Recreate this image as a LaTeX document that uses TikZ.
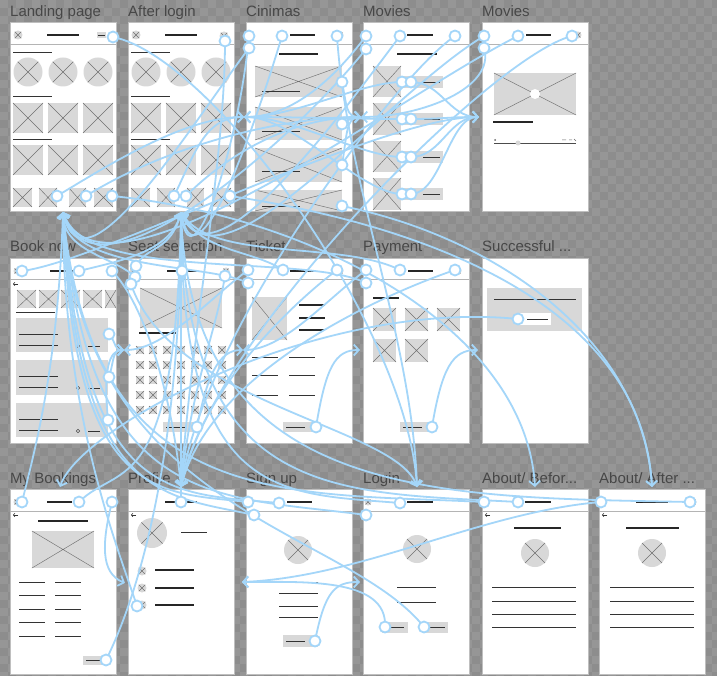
\documentclass[tikz,border=0pt]{standalone}
\usepackage{fontspec}
\setmainfont{Liberation Sans}
\usetikzlibrary{arrows.meta}
\definecolor{bgA}{HTML}{8D8D8D}
\definecolor{bgB}{HTML}{969696}
\definecolor{lb}{RGB}{164,214,249}
\definecolor{phc}{HTML}{D8D8D8}
\definecolor{xlc}{HTML}{707070}
\definecolor{lblc}{HTML}{474747}
\definecolor{frmc}{HTML}{BFBFBF}
\definecolor{sepc}{HTML}{B4B4B4}
\tikzset{
 link/.style={draw=lb,line width=1.8pt,-{Straight Barb[length=5pt,width=11pt]}},
 dot/.style={circle,draw=lb,fill=white,line width=1.8pt,minimum size=11pt,inner sep=0pt},
 frm/.style={fill=white,draw=frmc,line width=0.6pt},
 sepl/.style={draw=sepc,line width=0.9pt},
 xl/.style={draw=xlc,line width=0.45pt},
 wl/.style={draw=black!80,line width=0.9pt},
 hl/.style={draw=black!85,line width=1.4pt},
 lab/.style={anchor=base west,text=lblc,font=\fontsize{15}{18}\selectfont,inner sep=0pt}
}
\newcommand\wfbox[4]{\fill[phc] (#1,#2) rectangle (#3,#4); \draw[xl] (#1,#2) -- (#3,#4) (#1,#4) -- (#3,#2);}
\newcommand\wfcirc[3]{\fill[phc] (#1,#2) circle[radius=#3]; \draw[xl] ({#1-0.7071*#3},{#2-0.7071*#3}) -- ({#1+0.7071*#3},{#2+0.7071*#3}) ({#1-0.7071*#3},{#2+0.7071*#3}) -- ({#1+0.7071*#3},{#2-0.7071*#3});}
\newcommand\wfline[3]{\draw[wl] (#1,#3) -- (#2,#3);}
\newcommand\wfhead[3]{\draw[hl] (#1,#3) -- (#2,#3);}
\newcommand\wfback[2]{\draw[draw=black!80,line width=0.6pt,-{Straight Barb[length=1.5pt,width=3.5pt]}] ({#1+5},#2) -- (#1,#2);}
\newcommand\lnk[4]{\draw[link] (#1) .. controls +#2 and +#3 .. (#4);}
\newcommand\landbody{%
\draw[sepl] (10,44) -- (116,44);
\wfcirc{18}{35}{4.5}
\wfhead{47}{79}{35}
\wfline{13}{52}{52}
\wfcirc{28}{72}{14.5} \wfcirc{63}{72}{14.5} \wfcirc{98}{72}{14.5}
\wfline{13}{52}{96}
\wfbox{13}{103}{43}{133} \wfbox{48}{103}{78}{133} \wfbox{83}{103}{113}{133}
\wfline{13}{52}{139}
\wfbox{13}{145}{43}{175} \wfbox{48}{145}{78}{175} \wfbox{83}{145}{113}{175}
\wfbox{13}{188}{32}{207} \wfbox{39}{188}{57}{207} \wfbox{69}{188}{86}{207} \wfbox{94}{188}{113}{207}}
\begin{document}
\begin{tikzpicture}[x=1pt,y=-1pt]
\useasboundingbox (0,0) rectangle (717,676);
\fill[bgA] (0,0) rectangle (717,676);
\foreach \r in {0,...,84} {
  \pgfmathsetmacro\dph{mod(\r,2)*8}
  \draw[bgB, line width=8pt, dash pattern=on 8pt off 8pt, dash phase=\dph pt] (0,{8*\r+4}) -- (717,{8*\r+4});
}
% ---------- frames ----------
\foreach \fx/\ft/\fb in {10/22/211,128/22/211,246/22/211,363/22/211,482/22/211,
  10/258/443,128/258/443,246/258/443,363/258/443,482/258/443,
  10/489/674,128/489/674,246/489/674,363/489/674,482/489/674,599/489/674}
  {\draw[frm] (\fx,\ft) rectangle ({\fx+106},\fb);}
\node[lab] (tA) at (10,17) {Landing page};
\node[lab] (tB) at (128,17) {After login};
\node[lab] (tC) at (246,17) {Cinimas};
\node[lab] (tD) at (363,17) {Movies};
\node[lab] (tE) at (482,17) {Movies};
\node[lab] (tF) at (10,252) {Book now};
\node[lab] (tG) at (128,252) {Seat selection};
\node[lab] (tH) at (246,252) {Ticket};
\node[lab] (tI) at (363,252) {Payment};
\node[lab] (tJ) at (482,252) {Successful ...};
\node[lab] (tK) at (10,483) {My Bookings};
\node[lab] (tL) at (128,483) {Profile};
\node[lab] (tM) at (246,483) {Sign up};
\node[lab] (tN) at (363,483) {Login};
\node[lab] (tO) at (482,483) {About/ Befor...};
\node[lab] (tP) at (599,483) {About/ After ...};
% Landing
\landbody
\fill[phc] (97,32) rectangle (106,38); \draw[wl] (98,35)--(105,35);
% After login
\begin{scope}[xshift=118pt]\landbody\end{scope}
\wfcirc{224}{36}{4.5}
% Cinimas
\draw[sepl] (246,44) -- (352,44);
\wfcirc{250}{35}{3.5} \wfhead{290}{315}{35} \wfcirc{340}{35}{3.5}
\wfhead{279}{318}{54}
\wfbox{255}{66}{342}{97} \wfline{262}{300}{91}
\wfbox{255}{107}{342}{140} \wfline{262}{300}{131}
\wfbox{255}{148}{342}{182} \wfline{262}{300}{171}
\wfbox{255}{190}{342}{211} \wfline{262}{300}{206}
% Movies
\draw[sepl] (363,44) -- (469,44);
\wfcirc{367}{35}{3.5} \wfhead{407}{433}{35} \wfcirc{457}{35}{3.5}
\wfhead{397}{437}{54}
\foreach \ya/\yb/\ym in {66/97/82,103/135/119,141/172/157,178/210/194}{
  \wfbox{373}{\ya}{401}{\yb}
  \fill[phc] (403,\ym-6) rectangle (443,\ym+6); \wfline{423}{440}{\ym}}
% Movies 2
\draw[sepl] (482,44) -- (588,44);
\wfcirc{486}{35}{3.5} \wfhead{526}{551}{35} \wfcirc{578}{35}{3.5}
\wfbox{494}{73}{576}{115} \fill[white] (535,94) circle[radius=5];
\wfhead{493}{533}{122}
\draw[draw=black!70,line width=0.7pt] (494,143) -- (576,143);
\fill[phc] (518,143) circle[radius=2.5];
\fill[black!60] (495,140) circle[radius=1];
\draw[draw=black!60,line width=0.5pt] (562,140) -- (566,140) (569,140) -- (572,140) (574,139) -- (576,141);
% Book now
\draw[sepl] (10,279) -- (116,279);
\wfcirc{17}{271}{3.5} \wfhead{50}{75}{271} \wfcirc{112}{271}{3.5}
\wfback{13}{284}
\wfbox{17}{290}{36}{308} \wfbox{39}{290}{58}{308} \wfbox{61}{290}{80}{308} \wfbox{83}{290}{102}{308} \wfbox{105}{290}{116}{308}
\wfline{16}{55}{312}
\foreach \ya/\yb in {318/352,360/395,403/437}{
  \fill[phc] (16,\ya) rectangle (108,\yb);
  \wfline{19}{58}{\ya+16} \wfline{19}{58}{\ya+27}
  \draw[draw=black!70,line width=0.5pt] (78,\ya+28) circle[radius=1.8];
  \wfline{88}{100}{\ya+28}}
% Seat selection
\draw[sepl] (128,279) -- (234,279);
\wfcirc{133}{271}{3.5} \wfhead{167}{198}{271} \wfcirc{226}{271}{3.5}
\wfbox{140}{288}{222}{328}
\wfhead{139}{176}{333}
\foreach \cx in {140,153,167,181,195,208,222}{
  \foreach \cy in {350,365,380,395,410}{\wfbox{\cx-4}{\cy-4}{\cx+4}{\cy+4}}}
\fill[phc] (163,422) rectangle (197,432); \wfline{166}{186}{427}
% Ticket
\draw[sepl] (246,279) -- (352,279);
\wfcirc{250}{271}{3.5} \wfhead{290}{316}{271} \wfcirc{340}{271}{3.5}
\wfbox{252}{297}{287}{340}
\wfhead{299}{325}{305} \wfhead{299}{325}{318} \wfhead{299}{325}{330}
\foreach \yy in {357,375,395}{\wfline{252}{278}{\yy} \wfline{289}{315}{\yy}}
\fill[phc] (283,422) rectangle (318,432); \wfline{286}{305}{427}
% Payment
\draw[sepl] (363,279) -- (469,279);
\wfcirc{368}{271}{3.5} \wfhead{408}{433}{271} \wfcirc{458}{271}{3.5}
\wfhead{373}{399}{298}
\wfbox{373}{308}{396}{331} \wfbox{405}{308}{428}{331} \wfbox{437}{308}{460}{331}
\wfbox{373}{339}{396}{362} \wfbox{405}{339}{428}{362}
\fill[phc] (400,422) rectangle (432,432); \wfline{403}{422}{427}
% Successful
\fill[phc] (487,288) rectangle (582,331);
\wfline{494}{576}{299}
\fill[white] (520,313) rectangle (551,325); \wfline{527}{548}{319}
% My Bookings
\draw[sepl] (10,511) -- (116,511);
\wfcirc{17}{502}{3.5} \wfhead{47}{72}{502} \wfcirc{112}{502}{3.5}
\wfback{13}{515}
\wfhead{38}{88}{521}
\wfbox{32}{531}{94}{568}
\foreach \yy in {582,595,609,622,636}{\wfline{19}{45}{\yy} \wfline{55}{81}{\yy}}
\fill[phc] (83,656) rectangle (108,665); \wfline{86}{100}{660}
% Profile
\draw[sepl] (128,511) -- (234,511);
\wfhead{165}{197}{502} \wfback{131}{515}
\wfcirc{152}{533}{15} \wfline{181}{207}{532}
\wfcirc{142}{571}{4.5} \wfcirc{142}{588}{4.5} \wfcirc{142}{605}{4.5}
\wfhead{155}{194}{570} \wfhead{155}{194}{588} \wfhead{155}{194}{605}
% Sign up
\draw[sepl] (246,511) -- (352,511);
\wfcirc{250}{502}{3.5} \wfhead{287}{312}{502}
\wfcirc{298}{550}{14}
\foreach \yy in {582,593,606,617}{\wfline{279}{318}{\yy}}
\fill[phc] (283,635) rectangle (318,647); \wfline{286}{305}{641}
% Login
\draw[sepl] (363,511) -- (469,511);
\wfcirc{368}{502}{3.5} \wfhead{407}{433}{502}
\wfcirc{417}{549}{14}
\wfline{397}{436}{587} \wfline{397}{436}{602}
\fill[phc] (382,622) rectangle (408,633); \wfline{388}{404}{627}
\fill[phc] (423,622) rectangle (448,633); \wfline{429}{445}{627}
% About before
\draw[sepl] (482,511) -- (588,511);
\wfcirc{486}{502}{3.5} \wfhead{525}{551}{502}
\wfback{485}{515}
\wfhead{514}{561}{528}
\wfcirc{535}{553}{14}
\foreach \yy in {587,601,614,627}{\wfline{492}{576}{\yy}}
% About after
\draw[sepl] (599,511) -- (705,511);
\wfcirc{603}{502}{3.5} \wfhead{636}{668}{502} \wfcirc{693}{502}{3.5}
\wfback{602}{515}
\wfhead{626}{679}{528}
\wfcirc{652}{553}{14}
\foreach \yy in {587,601,614,627}{\wfline{610}{694}{\yy}}
% ---------- hubs ----------
\coordinate (hLand) at (63,212);
\coordinate (hAfter) at (181,212);
\coordinate (hCin) at (244,117);
\coordinate (hMov) at (361,117);
\coordinate (hMovB) at (479,117);
\coordinate (hSeat) at (124,350);
\coordinate (hTick) at (243,350);
\coordinate (hPay) at (360,350);
\coordinate (hSucc) at (478,350);
\coordinate (hMyB) at (60,487);
\coordinate (hProf) at (181,487);
\coordinate (hProfL) at (125,583);
\coordinate (hSign) at (242,582);
\coordinate (hLogL) at (360,582);
\coordinate (hLogin) at (417,487);
\coordinate (hAbB) at (535,487);
\coordinate (hAbA) at (652,487);
% ---------- sources ----------
\foreach \n/\px/\py in {lpA/113/37,lpB/57/196,lpC/86/196,lpD/112/196,
 alA/225/41,alB/174/196,alC/186/196,alD/230/196,
 ciA/249/36,ciB/249/48,ciC/282/36,ciD/337/36,ciE/342/82,ciF/342/124,ciG/342/165,ciH/342/206,
 mvA/366/36,mvB/366/49,mvC/400/36,mvD/455/36,
 mvEa/402/82,mvEb/402/119,mvEc/402/157,mvEd/402/194,
 mvFa/411/82,mvFb/411/119,mvFc/411/157,mvFd/411/194,
 mtA/484/36,mtB/484/48,mtC/518/36,mtD/572/36,
 bnA/22/271,bnB/79/271,bnC/112/271,bnD/109/334,bnE/109/377,bnF/108/420,
 ssA/136/266,ssB/135/277,ssC/131/284,ssD/182/271,ssE/225/276,ssF/197/427,
 tkA/248/270,tkB/248/283,tkC/283/270,tkD/337/270,tkE/316/427,
 pyA/366/270,pyB/366/283,pyC/400/270,pyD/455/270,pyE/432/427,
 scA/518/319,
 mbA/22/502,mbB/79/502,mbC/112/502,mbD/106/660,
 prA/181/502,prB/137/606,
 suA/248/502,suB/254/515,suC/279/503,suD/315/641,
 lgA/366/515,lgB/400/503,lgC/385/627,lgD/424/627,
 abA/484/502,abB/518/502,aaA/601/502,aaB/690/502}
 {\coordinate (\n) at (\px,\py);}
% ---------- links ----------
\lnk{lpB}{(50,-30)}{(-60,0)}{hCin}
\lnk{alB}{(20,-40)}{(-40,0)}{hCin}
\lnk{mvA}{(-30,40)}{(50,0)}{hCin}
\lnk{mvEa}{(-40,0)}{(50,0)}{hCin}
\lnk{mvEb}{(-40,0)}{(50,0)}{hCin}
\lnk{mvEc}{(-40,0)}{(50,0)}{hCin}
\lnk{mvEd}{(-40,0)}{(50,0)}{hCin}
\lnk{ciE}{(5,25)}{(-15,0)}{hMov}
\lnk{ciF}{(6,-3)}{(-10,0)}{hMov}
\lnk{ciG}{(5,-30)}{(-15,0)}{hMov}
\lnk{lpC}{(80,-50)}{(-80,0)}{hMov}
\lnk{alC}{(50,-50)}{(-60,0)}{hMov}
\lnk{mtB}{(12,40)}{(60,0)}{hMov}
\lnk{mvFa}{(30,0)}{(-30,0)}{hMovB}
\lnk{mvFb}{(30,0)}{(-30,0)}{hMovB}
\lnk{mvFc}{(30,0)}{(-30,0)}{hMovB}
\lnk{mvFd}{(30,0)}{(-30,0)}{hMovB}
\lnk{bnA}{(80,-10)}{(-100,0)}{hMovB}
\lnk{bnD}{(8,10)}{(-10,0)}{hSeat}
\lnk{bnE}{(5,-15)}{(-12,0)}{hSeat}
\lnk{bnF}{(-5,-50)}{(-15,0)}{hSeat}
\lnk{tkA}{(-40,30)}{(40,0)}{hSeat}
\lnk{ssF}{(10,-50)}{(-25,0)}{hTick}
\lnk{pyA}{(-40,30)}{(40,0)}{hTick}
\lnk{tkE}{(10,-60)}{(-25,0)}{hPay}
\lnk{pyE}{(10,-60)}{(-25,0)}{hSucc}
\lnk{scA}{(-200,-20)}{(20,-60)}{hMyB}
\lnk{alA}{(0,120)}{(10,-150)}{hProf}
\lnk{mvD}{(-60,40)}{(20,-150)}{hProf}
\lnk{mtD}{(-80,20)}{(30,-150)}{hProf}
\lnk{bnC}{(30,30)}{(-10,-100)}{hProf}
\lnk{ssE}{(-10,60)}{(10,-100)}{hProf}
\lnk{tkD}{(-40,30)}{(20,-100)}{hProf}
\lnk{pyD}{(-60,20)}{(30,-120)}{hProf}
\lnk{mbC}{(-10,40)}{(-25,-10)}{hProfL}
\lnk{lgC}{(3,-50)}{(60,0)}{hSign}
\lnk{aaA}{(-120,10)}{(120,-5)}{hSign}
\lnk{suD}{(10,-50)}{(-25,0)}{hLogL}
\lnk{lpA}{(100,20)}{(-10,-160)}{hLogin}
\lnk{ciD}{(10,150)}{(-5,-150)}{hLogin}
\lnk{ssC}{(40,120)}{(-20,-60)}{hLogin}
\lnk{lpD}{(200,20)}{(-10,-160)}{hAbB}
\lnk{alD}{(200,30)}{(-10,-180)}{hAbA}
\lnk{ciH}{(150,30)}{(-10,-150)}{hAbA}
\lnk{ciA}{(-10,110)}{(10,80)}{hAfter}
\lnk{ciC}{(-30,100)}{(15,80)}{hAfter}
\lnk{mvC}{(-60,80)}{(30,80)}{hAfter}
\lnk{mtA}{(-100,60)}{(40,90)}{hAfter}
\lnk{bnB}{(40,-10)}{(-10,40)}{hAfter}
\lnk{ssA}{(10,-20)}{(-10,40)}{hAfter}
\lnk{ssD}{(0,-20)}{(0,30)}{hAfter}
\lnk{tkC}{(-30,-20)}{(20,40)}{hAfter}
\lnk{pyC}{(-60,-30)}{(30,50)}{hAfter}
\lnk{mbB}{(40,-40)}{(-5,290)}{hAfter}
\lnk{prA}{(0,-100)}{(0,150)}{hAfter}
\lnk{aaB}{(-250,-5)}{(10,290)}{hAfter}
\lnk{mbD}{(30,-60)}{(0,250)}{hAfter}
\lnk{lgB}{(-120,-10)}{(0,290)}{hAfter}
\lnk{abB}{(-180,-10)}{(5,290)}{hAfter}
\lnk{ciB}{(-60,80)}{(20,90)}{hLand}
\lnk{mvB}{(-80,100)}{(30,100)}{hLand}
\lnk{mtC}{(-120,60)}{(40,110)}{hLand}
\lnk{ssB}{(-20,-20)}{(0,40)}{hLand}
\lnk{tkB}{(-40,-20)}{(10,60)}{hLand}
\lnk{pyB}{(-60,-30)}{(20,70)}{hLand}
\lnk{mbA}{(15,-60)}{(-5,150)}{hLand}
\lnk{suA}{(-90,-10)}{(10,290)}{hLand}
\lnk{suB}{(-90,-20)}{(15,290)}{hLand}
\lnk{suC}{(-110,-10)}{(20,290)}{hLand}
\lnk{lgA}{(-150,-20)}{(25,300)}{hLand}
\lnk{lgD}{(-80,-100)}{(20,300)}{hLand}
\lnk{abA}{(-200,-10)}{(30,300)}{hLand}
\lnk{prB}{(-20,-60)}{(0,200)}{hLand}
% ---------- dots ----------
\foreach \n in {lpA,lpB,lpC,lpD,alA,alB,alC,alD,ciA,ciB,ciC,ciD,ciE,ciF,ciG,ciH,
 mvA,mvB,mvC,mvD,mvEa,mvEb,mvEc,mvEd,mvFa,mvFb,mvFc,mvFd,mtA,mtB,mtC,mtD,
 bnA,bnB,bnC,bnD,bnE,bnF,ssA,ssB,ssC,ssD,ssE,ssF,tkA,tkB,tkC,tkD,tkE,
 pyA,pyB,pyC,pyD,pyE,scA,mbA,mbB,mbC,mbD,prA,prB,suA,suB,suC,suD,
 lgA,lgB,lgC,lgD,abA,abB,aaA,aaB}
 {\node[dot] (d\n) at (\n) {};}
\end{tikzpicture}
\end{document}
